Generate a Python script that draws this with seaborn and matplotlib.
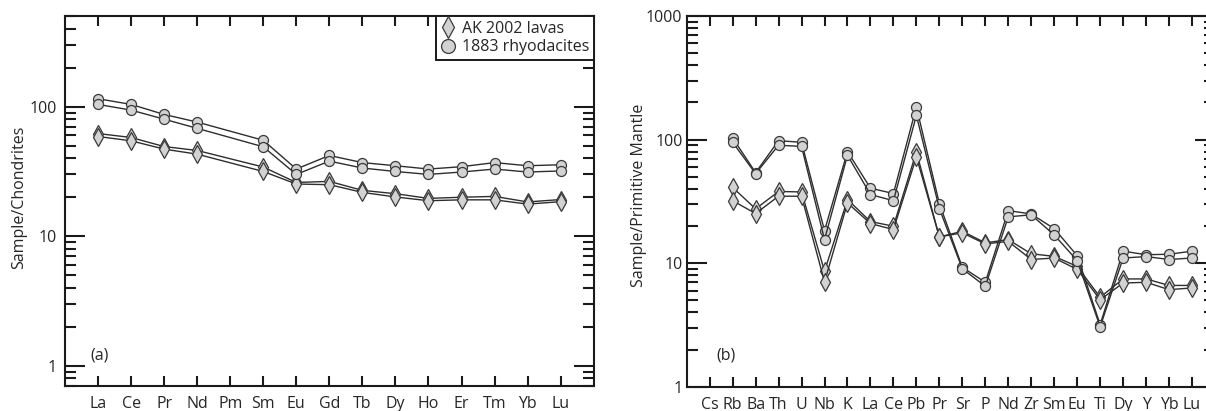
import numpy as np
import pandas as pd
import matplotlib
matplotlib.use("Agg")
import matplotlib.pyplot as plt
from matplotlib.lines import Line2D
from matplotlib.ticker import LogLocator, NullFormatter, FixedLocator, FixedFormatter
import seaborn as sns

# ---------------- data ----------------
ree = ["La", "Ce", "Pr", "Nd", "Pm", "Sm", "Eu", "Gd", "Tb", "Dy", "Ho", "Er", "Tm", "Yb", "Lu"]
ree_rhyo_1 = [115, 104, 87, 76, None, 55, 33, 42, 37, 35, 33, 34.4, 37, 35, 35.6]
ree_rhyo_2 = [104, 94, 80, 68, None, 49, 30, 38, 33.6, 31.6, 30, 31.3, 33, 31.3, 31.9]
ree_ak_1 = [62, 57.8, 49.2, 45.9, None, 34.2, 26, 26.5, 22.6, 21.3, 19.6, 20, 20.3, 18.4, 19.2]
ree_ak_2 = [58.8, 54.5, 47, 43, None, 31.6, 25.3, 25, 21.8, 20.1, 18.8, 19.1, 19.1, 17.7, 18.5]

spider = ["Cs", "Rb", "Ba", "Th", "U", "Nb", "K", "La", "Ce", "Pb", "Pr", "Sr", "P",
          "Nd", "Zr", "Sm", "Eu", "Ti", "Dy", "Y", "Yb", "Lu"]
pm_rhyo_1 = [None, 103, 54, 98, 95, 18.3, 80, 40.4, 36.6, 184, 30.3, 9.25, 7.0,
             26.6, 25, 19, 11.5, 3.18, 12.5, 11.7, 11.8, 12.5]
pm_rhyo_2 = [None, 95, 53, 90, 88, 15.5, 74.7, 35.9, 32, 157, 27.6, 9.0, 6.5,
             23.7, 24.6, 16.9, 10.5, 3.05, 11.0, 11.3, 10.7, 11.0]
pm_ak_1 = [None, 41, 27.5, 38, 37.7, 8.6, 32.7, 21.7, 19.9, 79.5, 16.3, 18.1, 14.6,
           15.5, 11.9, 11.35, 9.4, 5.3, 7.45, 7.45, 6.6, 6.6]
pm_ak_2 = [None, 32, 25.2, 34.8, 34.8, 7.05, 30.7, 20.9, 18.7, 72.5, 16.3, 17.6, 14.3,
           15.0, 10.7, 11.0, 8.9, 5.06, 6.9, 7.0, 6.1, 6.3]

legend_labels = ["AK 2002 lavas", "1883 rhyodacites"]

# ---------------- style ----------------
sns.set_style("ticks")
plt.rcParams["font.family"] = ["Open Sans", "DejaVu Sans"]
FS = 11.5
plt.rcParams["font.size"] = FS

LINE = "#2e2e2e"
FACE = "#d2d2d2"
EDGE = "#3a3a3a"

fig = plt.figure(figsize=(12.06, 4.11), dpi=100)
W, H = 1206, 411
ax1 = fig.add_axes([65 / W, 1 - 386 / H, (593.7 - 65) / W, (386 - 16) / H])
ax2 = fig.add_axes([686.7 / W, 1 - 386.7 / H, (1215 - 686.7) / W, (386.7 - 16) / H])


def draw(ax, cats, vals, marker, ms):
    df = pd.DataFrame({"pos": np.arange(len(cats), dtype=float),
                       "val": pd.to_numeric(pd.Series(vals), errors="coerce")}).dropna()
    sns.lineplot(data=df, x="pos", y="val", ax=ax, sort=False, estimator=None,
                 color=LINE, linewidth=1.0, marker=marker, markersize=ms,
                 markerfacecolor=FACE, markeredgecolor=EDGE, markeredgewidth=0.9)


for ax, cats, series in [
    (ax1, ree, [(ree_ak_1, "d"), (ree_ak_2, "d"), (ree_rhyo_1, "o"), (ree_rhyo_2, "o")]),
    (ax2, spider, [(pm_ak_1, "d"), (pm_ak_2, "d"), (pm_rhyo_1, "o"), (pm_rhyo_2, "o")]),
]:
    for vals, mk in series:
        draw(ax, cats, vals, mk, 9.0 if mk == "d" else 7.2)
    ax.set_yscale("log")
    ax.set_xlim(-1, len(cats))
    ax.set_xticks(np.arange(len(cats)))
    ax.set_xticklabels(cats)
    ax.set_xlabel("")
    for sp in ax.spines.values():
        sp.set_visible(True)
        sp.set_linewidth(1.5)
        sp.set_color("#1a1a1a")
    ax.yaxis.set_minor_locator(LogLocator(base=10, subs=np.arange(2, 10)))
    ax.yaxis.set_minor_formatter(NullFormatter())
    ax.tick_params(axis="both", which="both", direction="in", top=True, bottom=True,
                   left=True, right=True, color="#1a1a1a", width=1.5, labelsize=FS)
    ax.tick_params(axis="x", which="major", length=7, pad=7.5)
    ax.tick_params(axis="x", which="minor", length=0)
    ax.tick_params(axis="y", which="major", length=14.5)
    ax.tick_params(axis="y", which="minor", length=8)

ax1.set_ylim(0.7, 500)
ax1.yaxis.set_major_locator(FixedLocator([1, 10, 100]))
ax1.yaxis.set_major_formatter(FixedFormatter(["1", "10", "100"]))
ax1.tick_params(axis="y", which="major", pad=6)
ax1.set_ylabel("Sample/Chondrites", fontsize=FS)
ax1.yaxis.set_label_coords(-0.072, 0.51)

ax2.set_ylim(1, 1000)
ax2.yaxis.set_major_locator(FixedLocator([1, 10, 100, 1000]))
ax2.yaxis.set_major_formatter(FixedFormatter(["1", "10", "100", "1000"]))
ax2.tick_params(axis="y", which="major", pad=3)
ax2.set_ylabel("Sample/Primitive Mantle", fontsize=FS)
ax2.yaxis.set_label_coords(-0.076, 0.517)

# panel letters, placed in figure pixels
fig.text(90 / W, 1 - 355 / H, "(a)", fontsize=FS, va="center", ha="left")
fig.text(716 / W, 1 - 355 / H, "(b)", fontsize=FS, va="center", ha="left")

handles = [
    Line2D([], [], linestyle="none", marker="d", markersize=11, markerfacecolor=FACE,
           markeredgecolor=EDGE, markeredgewidth=0.9),
    Line2D([], [], linestyle="none", marker="o", markersize=10, markerfacecolor=FACE,
           markeredgecolor=EDGE, markeredgewidth=0.9),
]
leg = ax1.legend(handles, legend_labels, loc="upper right", borderaxespad=0,
                 frameon=True, fancybox=False, fontsize=FS, handlelength=0.9,
                 handletextpad=0.4, borderpad=0.3, labelspacing=0.15)
leg.get_frame().set_edgecolor("#1a1a1a")
leg.get_frame().set_linewidth(1.4)
leg.get_frame().set_alpha(1)

fig.savefig("out.png", dpi=100)
